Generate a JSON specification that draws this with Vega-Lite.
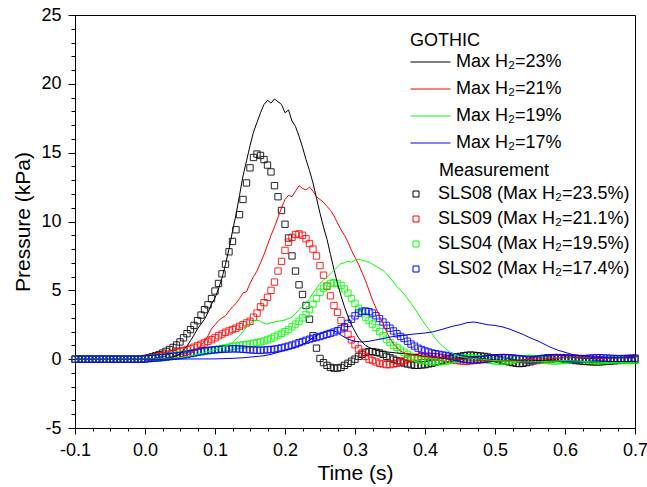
{
"$schema": "https://vega.github.io/schema/vega-lite/v6.json",
"width": 560, "height": 413,
"autosize": "none",
"padding": {"left": 75, "top": 15, "right": 12, "bottom": 59},
"config": {
  "view": {"stroke": "#000000", "strokeWidth": 1},
  "font": "Liberation Sans",
  "axis": {"grid": false, "domainColor": "#000000", "tickColor": "#000000", "labelColor": "#000000", "titleColor": "#000000", "labelFont": "Liberation Sans", "titleFont": "Liberation Sans", "titleFontWeight": "normal", "labelFontSize": 18, "titleFontSize": 21, "labelOverlap": false, "labelFlush": false},
  "legend": {"labelFont": "Liberation Sans", "titleFont": "Liberation Sans", "labelFontSize": 18, "titleFontSize": 18, "titleFontWeight": "normal", "labelColor": "#000000", "titleColor": "#000000", "padding": 0, "titlePadding": 4, "labelLimit": 400}
},
"datasets": {
"g23": [{"t":-0.1,"p":0},{"t":0.0,"p":0},{"t":0.02,"p":0.02},{"t":0.03,"p":0.05},{"t":0.035,"p":0.1},{"t":0.04,"p":0.15},{"t":0.045,"p":0.25},{"t":0.05,"p":0.4},{"t":0.055,"p":0.65},{"t":0.06,"p":0.95},{"t":0.065,"p":1.35},{"t":0.07,"p":1.75},{"t":0.075,"p":2.2},{"t":0.08,"p":2.55},{"t":0.085,"p":2.9},{"t":0.09,"p":3.4},{"t":0.095,"p":4.0},{"t":0.1,"p":4.45},{"t":0.105,"p":5.1},{"t":0.11,"p":5.9},{"t":0.115,"p":6.9},{"t":0.12,"p":8.0},{"t":0.125,"p":9.3},{"t":0.13,"p":10.5},{"t":0.135,"p":11.9},{"t":0.14,"p":13.3},{"t":0.145,"p":14.4},{"t":0.15,"p":15.5},{"t":0.155,"p":16.5},{"t":0.16,"p":17.2},{"t":0.165,"p":17.9},{"t":0.17,"p":18.5},{"t":0.175,"p":18.8},{"t":0.18,"p":18.6},{"t":0.185,"p":18.9},{"t":0.19,"p":18.7},{"t":0.195,"p":18.5},{"t":0.2,"p":17.9},{"t":0.205,"p":18.1},{"t":0.21,"p":17.3},{"t":0.215,"p":16.9},{"t":0.22,"p":16.2},{"t":0.225,"p":15.4},{"t":0.23,"p":14.5},{"t":0.235,"p":13.7},{"t":0.24,"p":12.8},{"t":0.245,"p":11.7},{"t":0.25,"p":10.6},{"t":0.255,"p":9.6},{"t":0.26,"p":8.7},{"t":0.265,"p":7.6},{"t":0.27,"p":6.5},{"t":0.275,"p":5.5},{"t":0.28,"p":4.6},{"t":0.285,"p":3.8},{"t":0.29,"p":3.1},{"t":0.295,"p":2.5},{"t":0.3,"p":2.0},{"t":0.305,"p":1.55},{"t":0.31,"p":1.25},{"t":0.315,"p":1.0},{"t":0.32,"p":0.85},{"t":0.33,"p":0.65},{"t":0.34,"p":0.55},{"t":0.35,"p":0.5},{"t":0.36,"p":0.45},{"t":0.37,"p":0.4},{"t":0.38,"p":0.35},{"t":0.39,"p":0.3},{"t":0.4,"p":0.2},{"t":0.42,"p":0.1},{"t":0.44,"p":0.05},{"t":0.46,"p":0.1},{"t":0.48,"p":0.05},{"t":0.5,"p":-0.05},{"t":0.52,"p":-0.1},{"t":0.54,"p":-0.15},{"t":0.56,"p":-0.1},{"t":0.58,"p":-0.05},{"t":0.6,"p":-0.1},{"t":0.62,"p":-0.15},{"t":0.64,"p":-0.2},{"t":0.66,"p":-0.2},{"t":0.68,"p":-0.2},{"t":0.7,"p":-0.2}],
"g21": [{"t":-0.1,"p":0},{"t":0.0,"p":0},{"t":0.03,"p":0.02},{"t":0.04,"p":0.05},{"t":0.05,"p":0.15},{"t":0.06,"p":0.3},{"t":0.065,"p":0.42},{"t":0.07,"p":0.55},{"t":0.075,"p":0.75},{"t":0.08,"p":1.0},{"t":0.085,"p":1.3},{"t":0.09,"p":1.7},{"t":0.095,"p":2.2},{"t":0.1,"p":2.5},{"t":0.105,"p":2.8},{"t":0.11,"p":3.0},{"t":0.115,"p":3.15},{"t":0.12,"p":3.5},{"t":0.125,"p":3.8},{"t":0.13,"p":4.05},{"t":0.135,"p":4.4},{"t":0.14,"p":4.8},{"t":0.145,"p":4.9},{"t":0.15,"p":5.5},{"t":0.155,"p":6.0},{"t":0.16,"p":6.4},{"t":0.165,"p":7.0},{"t":0.17,"p":7.6},{"t":0.175,"p":8.3},{"t":0.18,"p":9.0},{"t":0.185,"p":9.6},{"t":0.19,"p":10.3},{"t":0.195,"p":11.0},{"t":0.2,"p":11.6},{"t":0.205,"p":11.9},{"t":0.21,"p":11.8},{"t":0.215,"p":12.2},{"t":0.22,"p":12.6},{"t":0.225,"p":12.4},{"t":0.23,"p":12.3},{"t":0.235,"p":12.5},{"t":0.24,"p":12.2},{"t":0.245,"p":11.8},{"t":0.25,"p":11.6},{"t":0.255,"p":11.4},{"t":0.26,"p":11.1},{"t":0.265,"p":10.8},{"t":0.27,"p":10.4},{"t":0.275,"p":9.9},{"t":0.28,"p":9.4},{"t":0.285,"p":9.0},{"t":0.29,"p":8.5},{"t":0.295,"p":7.9},{"t":0.3,"p":7.4},{"t":0.305,"p":6.9},{"t":0.31,"p":6.3},{"t":0.315,"p":5.7},{"t":0.32,"p":5.0},{"t":0.325,"p":4.3},{"t":0.33,"p":3.7},{"t":0.335,"p":3.1},{"t":0.34,"p":2.6},{"t":0.345,"p":2.0},{"t":0.35,"p":1.5},{"t":0.355,"p":1.1},{"t":0.36,"p":0.85},{"t":0.365,"p":0.6},{"t":0.37,"p":0.45},{"t":0.38,"p":0.35},{"t":0.39,"p":0.25},{"t":0.4,"p":0.2},{"t":0.42,"p":0.12},{"t":0.44,"p":0.05},{"t":0.46,"p":-0.05},{"t":0.48,"p":-0.1},{"t":0.5,"p":-0.15},{"t":0.52,"p":-0.1},{"t":0.54,"p":-0.05},{"t":0.56,"p":0.0},{"t":0.58,"p":0.05},{"t":0.6,"p":0.1},{"t":0.62,"p":0.1},{"t":0.64,"p":0.1},{"t":0.66,"p":0.05},{"t":0.68,"p":0.1},{"t":0.7,"p":0.1}],
"g19": [{"t":-0.1,"p":0},{"t":0.0,"p":0},{"t":0.05,"p":0.1},{"t":0.07,"p":0.3},{"t":0.09,"p":0.55},{"t":0.1,"p":0.7},{"t":0.11,"p":0.85},{"t":0.12,"p":1.05},{"t":0.125,"p":1.2},{"t":0.13,"p":1.45},{"t":0.135,"p":1.7},{"t":0.14,"p":2.0},{"t":0.145,"p":2.35},{"t":0.15,"p":2.6},{"t":0.155,"p":2.75},{"t":0.16,"p":2.85},{"t":0.165,"p":2.75},{"t":0.17,"p":2.6},{"t":0.175,"p":2.55},{"t":0.18,"p":2.65},{"t":0.185,"p":2.7},{"t":0.19,"p":2.75},{"t":0.195,"p":2.8},{"t":0.2,"p":2.85},{"t":0.205,"p":2.95},{"t":0.21,"p":3.05},{"t":0.215,"p":3.3},{"t":0.22,"p":3.6},{"t":0.225,"p":3.85},{"t":0.23,"p":4.1},{"t":0.235,"p":4.4},{"t":0.24,"p":4.8},{"t":0.245,"p":5.15},{"t":0.25,"p":5.5},{"t":0.255,"p":5.75},{"t":0.26,"p":5.95},{"t":0.265,"p":6.2},{"t":0.27,"p":6.45},{"t":0.275,"p":6.7},{"t":0.28,"p":6.95},{"t":0.285,"p":7.0},{"t":0.29,"p":7.1},{"t":0.295,"p":7.05},{"t":0.3,"p":7.2},{"t":0.305,"p":7.25},{"t":0.31,"p":7.2},{"t":0.315,"p":7.1},{"t":0.32,"p":7.05},{"t":0.325,"p":6.9},{"t":0.33,"p":6.75},{"t":0.335,"p":6.6},{"t":0.34,"p":6.45},{"t":0.345,"p":6.2},{"t":0.35,"p":5.9},{"t":0.355,"p":5.6},{"t":0.36,"p":5.25},{"t":0.365,"p":5.0},{"t":0.37,"p":4.75},{"t":0.375,"p":4.4},{"t":0.38,"p":4.05},{"t":0.385,"p":3.7},{"t":0.39,"p":3.3},{"t":0.395,"p":2.9},{"t":0.4,"p":2.55},{"t":0.405,"p":2.2},{"t":0.41,"p":1.85},{"t":0.415,"p":1.5},{"t":0.42,"p":1.2},{"t":0.425,"p":0.95},{"t":0.43,"p":0.75},{"t":0.435,"p":0.55},{"t":0.44,"p":0.4},{"t":0.445,"p":0.3},{"t":0.45,"p":0.2},{"t":0.46,"p":0.1},{"t":0.48,"p":0.0},{"t":0.5,"p":-0.1},{"t":0.52,"p":-0.15},{"t":0.54,"p":-0.2},{"t":0.56,"p":-0.2},{"t":0.58,"p":-0.15},{"t":0.6,"p":-0.1},{"t":0.62,"p":-0.15},{"t":0.64,"p":-0.2},{"t":0.66,"p":-0.25},{"t":0.68,"p":-0.25},{"t":0.7,"p":-0.25}],
"g17": [{"t":-0.1,"p":0},{"t":0.0,"p":0},{"t":0.1,"p":0.02},{"t":0.12,"p":0.05},{"t":0.14,"p":0.1},{"t":0.16,"p":0.2},{"t":0.17,"p":0.25},{"t":0.18,"p":0.35},{"t":0.19,"p":0.5},{"t":0.2,"p":0.65},{"t":0.21,"p":0.8},{"t":0.22,"p":0.95},{"t":0.23,"p":1.2},{"t":0.24,"p":1.55},{"t":0.25,"p":1.85},{"t":0.255,"p":1.95},{"t":0.26,"p":2.05},{"t":0.265,"p":2.1},{"t":0.27,"p":2.05},{"t":0.275,"p":1.95},{"t":0.28,"p":1.75},{"t":0.285,"p":1.6},{"t":0.29,"p":1.45},{"t":0.3,"p":1.3},{"t":0.31,"p":1.25},{"t":0.32,"p":1.3},{"t":0.33,"p":1.4},{"t":0.34,"p":1.5},{"t":0.35,"p":1.6},{"t":0.36,"p":1.7},{"t":0.37,"p":1.75},{"t":0.38,"p":1.8},{"t":0.39,"p":1.85},{"t":0.4,"p":1.9},{"t":0.41,"p":1.97},{"t":0.42,"p":2.1},{"t":0.43,"p":2.25},{"t":0.44,"p":2.4},{"t":0.45,"p":2.5},{"t":0.46,"p":2.65},{"t":0.47,"p":2.7},{"t":0.48,"p":2.6},{"t":0.49,"p":2.5},{"t":0.5,"p":2.45},{"t":0.51,"p":2.35},{"t":0.52,"p":2.2},{"t":0.53,"p":2.0},{"t":0.54,"p":1.8},{"t":0.55,"p":1.55},{"t":0.56,"p":1.35},{"t":0.57,"p":1.1},{"t":0.58,"p":0.85},{"t":0.59,"p":0.65},{"t":0.6,"p":0.5},{"t":0.61,"p":0.35},{"t":0.62,"p":0.25},{"t":0.64,"p":0.15},{"t":0.66,"p":0.1},{"t":0.68,"p":0.1},{"t":0.7,"p":0.1}],
"s08": [{"t":-0.1,"p":0},{"t":-0.095,"p":0},{"t":-0.09,"p":0},{"t":-0.085,"p":0},{"t":-0.08,"p":0},{"t":-0.075,"p":0},{"t":-0.07,"p":0},{"t":-0.065,"p":0},{"t":-0.06,"p":0},{"t":-0.055,"p":0},{"t":-0.05,"p":0},{"t":-0.045,"p":0},{"t":-0.04,"p":0},{"t":-0.035,"p":0},{"t":-0.03,"p":0},{"t":-0.025,"p":0},{"t":-0.02,"p":0},{"t":-0.015,"p":0},{"t":-0.01,"p":0},{"t":-0.005,"p":0},{"t":0.0,"p":0.05},{"t":0.005,"p":0.1},{"t":0.01,"p":0.17},{"t":0.015,"p":0.25},{"t":0.02,"p":0.33},{"t":0.025,"p":0.44},{"t":0.03,"p":0.57},{"t":0.035,"p":0.7},{"t":0.04,"p":0.85},{"t":0.045,"p":1.03},{"t":0.05,"p":1.25},{"t":0.055,"p":1.55},{"t":0.06,"p":1.85},{"t":0.065,"p":2.15},{"t":0.07,"p":2.45},{"t":0.075,"p":2.8},{"t":0.08,"p":3.2},{"t":0.085,"p":3.6},{"t":0.09,"p":3.95},{"t":0.095,"p":4.4},{"t":0.1,"p":4.95},{"t":0.105,"p":5.5},{"t":0.11,"p":6.2},{"t":0.115,"p":6.9},{"t":0.12,"p":7.8},{"t":0.125,"p":8.55},{"t":0.13,"p":9.4},{"t":0.135,"p":10.5},{"t":0.14,"p":11.6},{"t":0.145,"p":12.8},{"t":0.15,"p":13.9},{"t":0.155,"p":14.65},{"t":0.16,"p":14.9},{"t":0.165,"p":14.8},{"t":0.17,"p":14.5},{"t":0.175,"p":14.1},{"t":0.18,"p":13.6},{"t":0.185,"p":12.6},{"t":0.19,"p":11.8},{"t":0.195,"p":10.8},{"t":0.2,"p":9.8},{"t":0.205,"p":8.8},{"t":0.21,"p":7.5},{"t":0.215,"p":6.4},{"t":0.22,"p":5.4},{"t":0.225,"p":4.7},{"t":0.23,"p":3.9},{"t":0.235,"p":2.9},{"t":0.24,"p":1.7},{"t":0.245,"p":0.8},{"t":0.25,"p":0.05},{"t":0.255,"p":-0.25},{"t":0.26,"p":-0.45},{"t":0.265,"p":-0.6},{"t":0.27,"p":-0.65},{"t":0.275,"p":-0.65},{"t":0.28,"p":-0.6},{"t":0.285,"p":-0.45},{"t":0.29,"p":-0.3},{"t":0.295,"p":-0.15},{"t":0.3,"p":0.0},{"t":0.305,"p":0.2},{"t":0.31,"p":0.35},{"t":0.315,"p":0.5},{"t":0.32,"p":0.55},{"t":0.325,"p":0.55},{"t":0.33,"p":0.5},{"t":0.335,"p":0.45},{"t":0.34,"p":0.35},{"t":0.345,"p":0.2},{"t":0.35,"p":0.1},{"t":0.355,"p":0.0},{"t":0.36,"p":-0.1},{"t":0.365,"p":-0.2},{"t":0.37,"p":-0.28},{"t":0.375,"p":-0.35},{"t":0.38,"p":-0.4},{"t":0.385,"p":-0.45},{"t":0.39,"p":-0.45},{"t":0.395,"p":-0.42},{"t":0.4,"p":-0.4},{"t":0.405,"p":-0.35},{"t":0.41,"p":-0.3},{"t":0.415,"p":-0.22},{"t":0.42,"p":-0.15},{"t":0.425,"p":-0.08},{"t":0.43,"p":0.0},{"t":0.435,"p":0.05},{"t":0.44,"p":0.1},{"t":0.445,"p":0.15},{"t":0.45,"p":0.2},{"t":0.455,"p":0.25},{"t":0.46,"p":0.28},{"t":0.465,"p":0.3},{"t":0.47,"p":0.28},{"t":0.475,"p":0.25},{"t":0.48,"p":0.22},{"t":0.485,"p":0.2},{"t":0.49,"p":0.15},{"t":0.495,"p":0.1},{"t":0.5,"p":0.05},{"t":0.505,"p":0.0},{"t":0.51,"p":-0.08},{"t":0.515,"p":-0.15},{"t":0.52,"p":-0.2},{"t":0.525,"p":-0.25},{"t":0.53,"p":-0.3},{"t":0.535,"p":-0.32},{"t":0.54,"p":-0.3},{"t":0.545,"p":-0.25},{"t":0.55,"p":-0.2},{"t":0.555,"p":-0.12},{"t":0.56,"p":-0.05},{"t":0.565,"p":0.0},{"t":0.57,"p":0.05},{"t":0.575,"p":0.07},{"t":0.58,"p":0.08},{"t":0.585,"p":0.08},{"t":0.59,"p":0.06},{"t":0.595,"p":0.03},{"t":0.6,"p":0.0},{"t":0.605,"p":-0.03},{"t":0.61,"p":-0.06},{"t":0.615,"p":-0.1},{"t":0.62,"p":-0.12},{"t":0.625,"p":-0.15},{"t":0.63,"p":-0.17},{"t":0.635,"p":-0.18},{"t":0.64,"p":-0.2},{"t":0.645,"p":-0.2},{"t":0.65,"p":-0.2},{"t":0.655,"p":-0.18},{"t":0.66,"p":-0.16},{"t":0.665,"p":-0.14},{"t":0.67,"p":-0.12},{"t":0.675,"p":-0.1},{"t":0.68,"p":-0.08},{"t":0.685,"p":-0.06},{"t":0.69,"p":-0.05},{"t":0.695,"p":-0.05},{"t":0.7,"p":-0.05}],
"s09": [{"t":-0.1,"p":0},{"t":-0.095,"p":0},{"t":-0.09,"p":0},{"t":-0.085,"p":0},{"t":-0.08,"p":0},{"t":-0.075,"p":0},{"t":-0.07,"p":0},{"t":-0.065,"p":0},{"t":-0.06,"p":0},{"t":-0.055,"p":0},{"t":-0.05,"p":0},{"t":-0.045,"p":0},{"t":-0.04,"p":0},{"t":-0.035,"p":0},{"t":-0.03,"p":0},{"t":-0.025,"p":0},{"t":-0.02,"p":0},{"t":-0.015,"p":0},{"t":-0.01,"p":0},{"t":-0.005,"p":0},{"t":0.0,"p":0.03},{"t":0.005,"p":0.06},{"t":0.01,"p":0.1},{"t":0.015,"p":0.14},{"t":0.02,"p":0.2},{"t":0.025,"p":0.25},{"t":0.03,"p":0.3},{"t":0.035,"p":0.36},{"t":0.04,"p":0.43},{"t":0.045,"p":0.5},{"t":0.05,"p":0.56},{"t":0.055,"p":0.62},{"t":0.06,"p":0.7},{"t":0.065,"p":0.78},{"t":0.07,"p":0.87},{"t":0.075,"p":0.97},{"t":0.08,"p":1.08},{"t":0.085,"p":1.18},{"t":0.09,"p":1.3},{"t":0.095,"p":1.42},{"t":0.1,"p":1.55},{"t":0.105,"p":1.7},{"t":0.11,"p":1.83},{"t":0.115,"p":1.95},{"t":0.12,"p":2.05},{"t":0.125,"p":2.15},{"t":0.13,"p":2.25},{"t":0.135,"p":2.38},{"t":0.14,"p":2.5},{"t":0.145,"p":2.63},{"t":0.15,"p":2.75},{"t":0.155,"p":3.05},{"t":0.16,"p":3.35},{"t":0.165,"p":3.8},{"t":0.17,"p":4.1},{"t":0.175,"p":4.5},{"t":0.18,"p":5.0},{"t":0.185,"p":5.6},{"t":0.19,"p":6.4},{"t":0.195,"p":7.1},{"t":0.2,"p":7.9},{"t":0.205,"p":8.5},{"t":0.21,"p":8.85},{"t":0.215,"p":9.05},{"t":0.22,"p":9.1},{"t":0.225,"p":9.0},{"t":0.23,"p":8.75},{"t":0.235,"p":8.4},{"t":0.24,"p":8.0},{"t":0.245,"p":7.5},{"t":0.25,"p":6.8},{"t":0.255,"p":6.1},{"t":0.26,"p":5.3},{"t":0.265,"p":4.6},{"t":0.27,"p":3.9},{"t":0.275,"p":3.4},{"t":0.28,"p":2.8},{"t":0.285,"p":2.3},{"t":0.29,"p":1.8},{"t":0.295,"p":1.4},{"t":0.3,"p":1.05},{"t":0.305,"p":0.75},{"t":0.31,"p":0.45},{"t":0.315,"p":0.2},{"t":0.32,"p":0.0},{"t":0.325,"p":-0.1},{"t":0.33,"p":-0.2},{"t":0.335,"p":-0.3},{"t":0.34,"p":-0.35},{"t":0.345,"p":-0.4},{"t":0.35,"p":-0.4},{"t":0.355,"p":-0.35},{"t":0.36,"p":-0.3},{"t":0.365,"p":-0.2},{"t":0.37,"p":-0.1},{"t":0.375,"p":0.0},{"t":0.38,"p":0.05},{"t":0.385,"p":0.1},{"t":0.39,"p":0.15},{"t":0.395,"p":0.2},{"t":0.4,"p":0.2},{"t":0.405,"p":0.22},{"t":0.41,"p":0.2},{"t":0.415,"p":0.18},{"t":0.42,"p":0.15},{"t":0.425,"p":0.1},{"t":0.43,"p":0.05},{"t":0.435,"p":0.0},{"t":0.44,"p":-0.05},{"t":0.445,"p":-0.1},{"t":0.45,"p":-0.12},{"t":0.455,"p":-0.15},{"t":0.46,"p":-0.15},{"t":0.465,"p":-0.12},{"t":0.47,"p":-0.1},{"t":0.475,"p":-0.08},{"t":0.48,"p":-0.05},{"t":0.485,"p":0.0},{"t":0.49,"p":0.03},{"t":0.495,"p":0.06},{"t":0.5,"p":0.08},{"t":0.505,"p":0.1},{"t":0.51,"p":0.1},{"t":0.515,"p":0.1},{"t":0.52,"p":0.08},{"t":0.525,"p":0.05},{"t":0.53,"p":0.02},{"t":0.535,"p":0.0},{"t":0.54,"p":-0.03},{"t":0.545,"p":-0.06},{"t":0.55,"p":-0.08},{"t":0.555,"p":-0.1},{"t":0.56,"p":-0.1},{"t":0.565,"p":-0.08},{"t":0.57,"p":-0.05},{"t":0.575,"p":-0.02},{"t":0.58,"p":0.0},{"t":0.585,"p":0.03},{"t":0.59,"p":0.06},{"t":0.595,"p":0.08},{"t":0.6,"p":0.1},{"t":0.605,"p":0.1},{"t":0.61,"p":0.1},{"t":0.615,"p":0.08},{"t":0.62,"p":0.06},{"t":0.625,"p":0.04},{"t":0.63,"p":0.02},{"t":0.635,"p":0.0},{"t":0.64,"p":-0.02},{"t":0.645,"p":-0.04},{"t":0.65,"p":-0.05},{"t":0.655,"p":-0.05},{"t":0.66,"p":-0.05},{"t":0.665,"p":-0.04},{"t":0.67,"p":-0.02},{"t":0.675,"p":0.0},{"t":0.68,"p":0.02},{"t":0.685,"p":0.03},{"t":0.69,"p":0.04},{"t":0.695,"p":0.05},{"t":0.7,"p":0.05}],
"s04": [{"t":-0.1,"p":0},{"t":-0.095,"p":0},{"t":-0.09,"p":0},{"t":-0.085,"p":0},{"t":-0.08,"p":0},{"t":-0.075,"p":0},{"t":-0.07,"p":0},{"t":-0.065,"p":0},{"t":-0.06,"p":0},{"t":-0.055,"p":0},{"t":-0.05,"p":0},{"t":-0.045,"p":0},{"t":-0.04,"p":0},{"t":-0.035,"p":0},{"t":-0.03,"p":0},{"t":-0.025,"p":0},{"t":-0.02,"p":0},{"t":-0.015,"p":0},{"t":-0.01,"p":0},{"t":-0.005,"p":0},{"t":0.0,"p":0.02},{"t":0.005,"p":0.04},{"t":0.01,"p":0.06},{"t":0.015,"p":0.08},{"t":0.02,"p":0.1},{"t":0.025,"p":0.13},{"t":0.03,"p":0.16},{"t":0.035,"p":0.2},{"t":0.04,"p":0.24},{"t":0.045,"p":0.28},{"t":0.05,"p":0.32},{"t":0.055,"p":0.36},{"t":0.06,"p":0.4},{"t":0.065,"p":0.43},{"t":0.07,"p":0.46},{"t":0.075,"p":0.49},{"t":0.08,"p":0.52},{"t":0.085,"p":0.56},{"t":0.09,"p":0.6},{"t":0.095,"p":0.64},{"t":0.1,"p":0.68},{"t":0.105,"p":0.72},{"t":0.11,"p":0.77},{"t":0.115,"p":0.82},{"t":0.12,"p":0.87},{"t":0.125,"p":0.92},{"t":0.13,"p":0.96},{"t":0.135,"p":1.0},{"t":0.14,"p":1.03},{"t":0.145,"p":1.07},{"t":0.15,"p":1.1},{"t":0.155,"p":1.15},{"t":0.16,"p":1.2},{"t":0.165,"p":1.25},{"t":0.17,"p":1.32},{"t":0.175,"p":1.4},{"t":0.18,"p":1.5},{"t":0.185,"p":1.62},{"t":0.19,"p":1.75},{"t":0.195,"p":1.88},{"t":0.2,"p":2.0},{"t":0.205,"p":2.15},{"t":0.21,"p":2.35},{"t":0.215,"p":2.55},{"t":0.22,"p":2.75},{"t":0.225,"p":3.0},{"t":0.23,"p":3.25},{"t":0.235,"p":3.6},{"t":0.24,"p":4.0},{"t":0.245,"p":4.4},{"t":0.25,"p":4.85},{"t":0.255,"p":5.15},{"t":0.26,"p":5.35},{"t":0.265,"p":5.5},{"t":0.27,"p":5.55},{"t":0.275,"p":5.5},{"t":0.28,"p":5.35},{"t":0.285,"p":5.1},{"t":0.29,"p":4.8},{"t":0.295,"p":4.4},{"t":0.3,"p":4.05},{"t":0.305,"p":3.7},{"t":0.31,"p":3.35},{"t":0.315,"p":3.05},{"t":0.32,"p":2.8},{"t":0.325,"p":2.55},{"t":0.33,"p":2.3},{"t":0.335,"p":2.0},{"t":0.34,"p":1.7},{"t":0.345,"p":1.45},{"t":0.35,"p":1.2},{"t":0.355,"p":1.0},{"t":0.36,"p":0.85},{"t":0.365,"p":0.65},{"t":0.37,"p":0.5},{"t":0.375,"p":0.35},{"t":0.38,"p":0.2},{"t":0.385,"p":0.1},{"t":0.39,"p":0.0},{"t":0.395,"p":-0.08},{"t":0.4,"p":-0.12},{"t":0.405,"p":-0.15},{"t":0.41,"p":-0.18},{"t":0.415,"p":-0.2},{"t":0.42,"p":-0.2},{"t":0.425,"p":-0.18},{"t":0.43,"p":-0.15},{"t":0.435,"p":-0.1},{"t":0.44,"p":-0.05},{"t":0.445,"p":0.0},{"t":0.45,"p":0.05},{"t":0.455,"p":0.08},{"t":0.46,"p":0.1},{"t":0.465,"p":0.1},{"t":0.47,"p":0.08},{"t":0.475,"p":0.05},{"t":0.48,"p":0.02},{"t":0.485,"p":-0.02},{"t":0.49,"p":-0.06},{"t":0.495,"p":-0.1},{"t":0.5,"p":-0.13},{"t":0.505,"p":-0.15},{"t":0.51,"p":-0.15},{"t":0.515,"p":-0.13},{"t":0.52,"p":-0.1},{"t":0.525,"p":-0.06},{"t":0.53,"p":-0.02},{"t":0.535,"p":0.0},{"t":0.54,"p":0.03},{"t":0.545,"p":0.05},{"t":0.55,"p":0.05},{"t":0.555,"p":0.03},{"t":0.56,"p":0.0},{"t":0.565,"p":-0.03},{"t":0.57,"p":-0.06},{"t":0.575,"p":-0.1},{"t":0.58,"p":-0.12},{"t":0.585,"p":-0.13},{"t":0.59,"p":-0.12},{"t":0.595,"p":-0.1},{"t":0.6,"p":-0.07},{"t":0.605,"p":-0.04},{"t":0.61,"p":-0.02},{"t":0.615,"p":0.0},{"t":0.62,"p":0.0},{"t":0.625,"p":-0.02},{"t":0.63,"p":-0.05},{"t":0.635,"p":-0.08},{"t":0.64,"p":-0.1},{"t":0.645,"p":-0.12},{"t":0.65,"p":-0.12},{"t":0.655,"p":-0.1},{"t":0.66,"p":-0.08},{"t":0.665,"p":-0.06},{"t":0.67,"p":-0.05},{"t":0.675,"p":-0.05},{"t":0.68,"p":-0.06},{"t":0.685,"p":-0.08},{"t":0.69,"p":-0.1},{"t":0.695,"p":-0.1},{"t":0.7,"p":-0.1}],
"s02": [{"t":-0.1,"p":0},{"t":-0.095,"p":0},{"t":-0.09,"p":0},{"t":-0.085,"p":0},{"t":-0.08,"p":0},{"t":-0.075,"p":0},{"t":-0.07,"p":0},{"t":-0.065,"p":0},{"t":-0.06,"p":0},{"t":-0.055,"p":0},{"t":-0.05,"p":0},{"t":-0.045,"p":0},{"t":-0.04,"p":0},{"t":-0.035,"p":0},{"t":-0.03,"p":0},{"t":-0.025,"p":0},{"t":-0.02,"p":0},{"t":-0.015,"p":0},{"t":-0.01,"p":0},{"t":-0.005,"p":0},{"t":0.0,"p":0.02},{"t":0.005,"p":0.04},{"t":0.01,"p":0.06},{"t":0.015,"p":0.08},{"t":0.02,"p":0.1},{"t":0.025,"p":0.12},{"t":0.03,"p":0.15},{"t":0.035,"p":0.18},{"t":0.04,"p":0.2},{"t":0.045,"p":0.23},{"t":0.05,"p":0.26},{"t":0.055,"p":0.3},{"t":0.06,"p":0.35},{"t":0.065,"p":0.4},{"t":0.07,"p":0.45},{"t":0.075,"p":0.5},{"t":0.08,"p":0.55},{"t":0.085,"p":0.6},{"t":0.09,"p":0.63},{"t":0.095,"p":0.66},{"t":0.1,"p":0.68},{"t":0.105,"p":0.7},{"t":0.11,"p":0.72},{"t":0.115,"p":0.73},{"t":0.12,"p":0.74},{"t":0.125,"p":0.75},{"t":0.13,"p":0.75},{"t":0.135,"p":0.74},{"t":0.14,"p":0.72},{"t":0.145,"p":0.7},{"t":0.15,"p":0.68},{"t":0.155,"p":0.66},{"t":0.16,"p":0.65},{"t":0.165,"p":0.65},{"t":0.17,"p":0.66},{"t":0.175,"p":0.68},{"t":0.18,"p":0.7},{"t":0.185,"p":0.73},{"t":0.19,"p":0.77},{"t":0.195,"p":0.82},{"t":0.2,"p":0.88},{"t":0.205,"p":0.95},{"t":0.21,"p":1.02},{"t":0.215,"p":1.1},{"t":0.22,"p":1.2},{"t":0.225,"p":1.28},{"t":0.23,"p":1.37},{"t":0.235,"p":1.45},{"t":0.24,"p":1.52},{"t":0.245,"p":1.58},{"t":0.25,"p":1.65},{"t":0.255,"p":1.72},{"t":0.26,"p":1.8},{"t":0.265,"p":1.88},{"t":0.27,"p":1.97},{"t":0.275,"p":2.07},{"t":0.28,"p":2.2},{"t":0.285,"p":2.35},{"t":0.29,"p":2.6},{"t":0.295,"p":2.9},{"t":0.3,"p":3.15},{"t":0.305,"p":3.35},{"t":0.31,"p":3.48},{"t":0.315,"p":3.5},{"t":0.32,"p":3.45},{"t":0.325,"p":3.35},{"t":0.33,"p":3.15},{"t":0.335,"p":2.95},{"t":0.34,"p":2.7},{"t":0.345,"p":2.45},{"t":0.35,"p":2.25},{"t":0.355,"p":2.05},{"t":0.36,"p":1.85},{"t":0.365,"p":1.65},{"t":0.37,"p":1.5},{"t":0.375,"p":1.3},{"t":0.38,"p":1.1},{"t":0.385,"p":0.95},{"t":0.39,"p":0.8},{"t":0.395,"p":0.7},{"t":0.4,"p":0.6},{"t":0.405,"p":0.52},{"t":0.41,"p":0.45},{"t":0.415,"p":0.4},{"t":0.42,"p":0.35},{"t":0.425,"p":0.3},{"t":0.43,"p":0.27},{"t":0.435,"p":0.22},{"t":0.44,"p":0.18},{"t":0.445,"p":0.12},{"t":0.45,"p":0.06},{"t":0.455,"p":0.0},{"t":0.46,"p":-0.03},{"t":0.465,"p":-0.05},{"t":0.47,"p":-0.05},{"t":0.475,"p":-0.04},{"t":0.48,"p":-0.02},{"t":0.485,"p":0.0},{"t":0.49,"p":0.03},{"t":0.495,"p":0.06},{"t":0.5,"p":0.09},{"t":0.505,"p":0.11},{"t":0.51,"p":0.12},{"t":0.515,"p":0.12},{"t":0.52,"p":0.11},{"t":0.525,"p":0.09},{"t":0.53,"p":0.06},{"t":0.535,"p":0.03},{"t":0.54,"p":0.0},{"t":0.545,"p":-0.02},{"t":0.55,"p":-0.03},{"t":0.555,"p":-0.02},{"t":0.56,"p":0.0},{"t":0.565,"p":0.03},{"t":0.57,"p":0.06},{"t":0.575,"p":0.09},{"t":0.58,"p":0.11},{"t":0.585,"p":0.12},{"t":0.59,"p":0.12},{"t":0.595,"p":0.1},{"t":0.6,"p":0.08},{"t":0.605,"p":0.05},{"t":0.61,"p":0.03},{"t":0.615,"p":0.02},{"t":0.62,"p":0.02},{"t":0.625,"p":0.03},{"t":0.63,"p":0.05},{"t":0.635,"p":0.07},{"t":0.64,"p":0.09},{"t":0.645,"p":0.1},{"t":0.65,"p":0.1},{"t":0.655,"p":0.09},{"t":0.66,"p":0.08},{"t":0.665,"p":0.06},{"t":0.67,"p":0.05},{"t":0.675,"p":0.04},{"t":0.68,"p":0.04},{"t":0.685,"p":0.05},{"t":0.69,"p":0.06},{"t":0.695,"p":0.07},{"t":0.7,"p":0.08}]
},
"encoding": {
  "x": {"field": "t", "type": "quantitative", "scale": {"domain": [-0.1, 0.7], "nice": false, "zero": false},
    "axis": {"title": "Time (s)", "values": [-0.1,-0.075,-0.05,-0.025,0,0.025,0.05,0.075,0.1,0.125,0.15,0.175,0.2,0.225,0.25,0.275,0.3,0.325,0.35,0.375,0.4,0.425,0.45,0.475,0.5,0.525,0.55,0.575,0.6,0.625,0.65,0.675,0.7],
      "labelExpr": "abs(datum.value*10 - round(datum.value*10)) < 0.001 ? replace(format(datum.value, '.1f'), '\u2212', '-') : ''",
      "tickSize": {"condition": {"test": "abs(datum.value*10 - round(datum.value*10)) < 0.001", "value": 6}, "value": 3},
      "labelPadding": 7, "titlePadding": 3}},
  "y": {"field": "p", "type": "quantitative", "scale": {"domain": [-5, 25], "nice": false, "zero": false},
    "axis": {"title": "Pressure (kPa)", "values": [-5,-4,-3,-2,-1,0,1,2,3,4,5,6,7,8,9,10,11,12,13,14,15,16,17,18,19,20,21,22,23,24,25],
      "labelExpr": "datum.value % 5 == 0 ? '' + datum.value : ''",
      "tickSize": {"condition": {"test": "datum.value % 5 == 0", "value": 7}, "value": 4},
      "labelPadding": 7, "titlePadding": 7}}
},
"layer": [
  {"data": {"name": "s08"}, "mark": {"type": "point", "shape": "square", "filled": false, "size": 40, "strokeWidth": 1, "opacity": 0.85},
   "encoding": {
     "color": {"datum": "SLS08 (Max H₂=23.5%)", "type": "nominal",
       "scale": {"domain": ["SLS08 (Max H₂=23.5%)", "SLS09 (Max H₂=21.1%)", "SLS04 (Max H₂=19.5%)", "SLS02 (Max H₂=17.4%)"], "range": ["#000000", "#ff0000", "#00ff00", "#0000ff"]},
       "legend": {"title": null, "orient": "none", "legendX": 328, "legendY": 170, "symbolType": "square", "symbolSize": 36, "symbolStrokeWidth": 1, "symbolOpacity": 1, "symbolOffset": 4, "labelOffset": 13, "rowPadding": 7}},
     "shape": {"datum": "Measurement", "type": "nominal",
       "scale": {"domain": ["Measurement"], "range": ["square"]},
       "legend": {"title": null, "orient": "none", "legendX": 346, "legendY": 147, "symbolSize": 0, "symbolStrokeWidth": 0, "symbolOpacity": 0, "labelOffset": 0}}}},
  {"data": {"name": "s09"}, "mark": {"type": "point", "shape": "square", "filled": false, "size": 40, "strokeWidth": 1, "opacity": 0.85},
   "encoding": {"color": {"datum": "SLS09 (Max H₂=21.1%)", "type": "nominal"}}},
  {"data": {"name": "s04"}, "mark": {"type": "point", "shape": "square", "filled": false, "size": 40, "strokeWidth": 1, "opacity": 0.85},
   "encoding": {"color": {"datum": "SLS04 (Max H₂=19.5%)", "type": "nominal"}}},
  {"data": {"name": "s02"}, "mark": {"type": "point", "shape": "square", "filled": false, "size": 40, "strokeWidth": 1, "opacity": 0.85},
   "encoding": {"color": {"datum": "SLS02 (Max H₂=17.4%)", "type": "nominal"}}},
  {"data": {"name": "g23"}, "mark": {"type": "line", "strokeWidth": 1},
   "encoding": {"stroke": {"datum": "Max H₂=23%", "type": "nominal",
     "scale": {"domain": ["Max H₂=23%", "Max H₂=21%", "Max H₂=19%", "Max H₂=17%"], "range": ["#000000", "#ff0000", "#00ff00", "#0000ff"]},
     "legend": {"title": "GOTHIC", "orient": "none", "legendX": 335, "legendY": 17, "symbolType": "stroke", "symbolSize": 1600, "symbolStrokeWidth": 1, "labelOffset": 5, "clipHeight": 18, "rowPadding": 9, "titlePadding": 3}}}},
  {"data": {"name": "g21"}, "mark": {"type": "line", "strokeWidth": 1},
   "encoding": {"stroke": {"datum": "Max H₂=21%", "type": "nominal"}}},
  {"data": {"name": "g19"}, "mark": {"type": "line", "strokeWidth": 1},
   "encoding": {"stroke": {"datum": "Max H₂=19%", "type": "nominal"}}},
  {"data": {"name": "g17"}, "mark": {"type": "line", "strokeWidth": 1},
   "encoding": {"stroke": {"datum": "Max H₂=17%", "type": "nominal"}}}
]
}
